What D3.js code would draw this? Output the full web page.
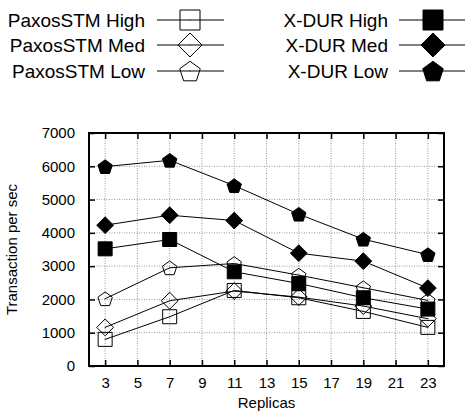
<!DOCTYPE html>
<html>
<head>
<meta charset="utf-8">
<script src="https://cdn.jsdelivr.net/npm/d3@7"></script>
<style>
  body { margin: 0; background: #fff; }
  svg { display: block; font-family: "Liberation Sans", Arial, sans-serif; }
</style>
</head>
<body>
<div id="chart"></div>
<script>
// data
var replicas = [3, 7, 11, 15, 19, 23];
var xTicks = [3, 5, 7, 9, 11, 13, 15, 17, 19, 21, 23];
var yTicks = [0, 1000, 2000, 3000, 4000, 5000, 6000, 7000];

var paxosHigh = [800, 1480, 2270, 2050, 1640, 1160];
var paxosMed  = [1160, 1960, 2250, 2070, 1800, 1420];
var paxosLow  = [2020, 2950, 3080, 2730, 2350, 1970];
var xdurHigh  = [3520, 3800, 2830, 2480, 2050, 1710];
var xdurMed   = [4230, 4530, 4370, 3390, 3150, 2340];
var xdurLow   = [5990, 6180, 5420, 4560, 3810, 3345];

var series = [
	{ name: "PaxosSTM High", values: paxosHigh, shape: "square",   filled: false },
	{ name: "PaxosSTM Med",  values: paxosMed,  shape: "diamond",  filled: false },
	{ name: "PaxosSTM Low",  values: paxosLow,  shape: "pentagon", filled: false },
	{ name: "X-DUR High",    values: xdurHigh,  shape: "square",   filled: true },
	{ name: "X-DUR Med",     values: xdurMed,   shape: "diamond",  filled: true },
	{ name: "X-DUR Low",     values: xdurLow,   shape: "pentagon", filled: true }
];

var width = 465, height = 413;
var margin = { left: 89, right: 21, top: 133, bottom: 47 };
var w = width - margin.left - margin.right;
var h = height - margin.top - margin.bottom;

var svg = d3.select("#chart").append("svg")
	.attr("width", width)
	.attr("height", height);

var x = d3.scaleLinear().domain([2, 24]).range([margin.left, margin.left + w]);
var y = d3.scaleLinear().domain([0, 7000]).range([margin.top + h, margin.top]);

// marker path for a given shape, size = full width
function markerPath(shape, s) {
	var r = s / 2;
	if (shape === "square") {
		return "M" + (-r) + "," + (-r) + "H" + r + "V" + r + "H" + (-r) + "Z";
	}
	if (shape === "diamond") {
		var d = r * 1.2;
		return "M0," + (-d) + "L" + d + ",0L0," + d + "L" + (-d) + ",0Z";
	}
	// pentagon, point up
	var pts = [];
	var pr = r * 1.08;
	for (var i = 0; i < 5; i++) {
		var a = -Math.PI / 2 + i * 2 * Math.PI / 5;
		pts.push([pr * Math.cos(a), pr * Math.sin(a) + pr * 0.1]);
	}
	return "M" + pts.map(function(p) { return p[0].toFixed(2) + "," + p[1].toFixed(2); }).join("L") + "Z";
}

function drawMarker(g, sr, cx, cy, size) {
	g.append("path")
		.attr("transform", "translate(" + cx + "," + cy + ")")
		.attr("d", markerPath(sr.shape, size))
		.attr("fill", sr.filled ? "#000" : "none")
		.attr("stroke", "#000")
		.attr("stroke-width", 1);
	if (!sr.filled) {
		g.append("rect")
			.attr("x", cx - 0.5).attr("y", cy - 0.5)
			.attr("width", 1).attr("height", 1)
			.attr("fill", "#333");
	}
}

// grid
var grid = svg.append("g");
grid.selectAll("line.gx")
	.data(xTicks)
	.enter().append("line")
	.attr("x1", function(d) { return x(d); }).attr("x2", function(d) { return x(d); })
	.attr("y1", margin.top).attr("y2", margin.top + h)
	.attr("stroke", "#999").attr("stroke-width", 1)
	.attr("stroke-dasharray", "1,1.5");
grid.selectAll("line.gy")
	.data(yTicks.slice(1, -1))
	.enter().append("line")
	.attr("y1", function(d) { return y(d); }).attr("y2", function(d) { return y(d); })
	.attr("x1", margin.left).attr("x2", margin.left + w)
	.attr("stroke", "#999").attr("stroke-width", 1)
	.attr("stroke-dasharray", "1,1.5");

// axes
var xAxis = svg.append("g")
	.attr("transform", "translate(0," + (margin.top + h) + ")")
	.call(d3.axisBottom(x).tickValues(xTicks).tickSizeInner(-6).tickSizeOuter(0).tickPadding(11));
var xAxisTop = svg.append("g")
	.attr("transform", "translate(0," + margin.top + ")")
	.call(d3.axisTop(x).tickValues(xTicks).tickSizeInner(-6).tickSizeOuter(0).tickFormat(""));
var yAxis = svg.append("g")
	.attr("transform", "translate(" + margin.left + ",0)")
	.call(d3.axisLeft(y).tickValues(yTicks).tickFormat(d3.format("d")).tickSizeInner(-6).tickSizeOuter(0).tickPadding(14));
var yAxisRight = svg.append("g")
	.attr("transform", "translate(" + (margin.left + w) + ",0)")
	.call(d3.axisRight(y).tickValues(yTicks).tickSizeInner(-6).tickSizeOuter(0).tickFormat(""));

[xAxis, xAxisTop, yAxis, yAxisRight].forEach(function(a) {
	a.select(".domain").remove();
	a.selectAll(".tick line").attr("stroke", "#000").attr("stroke-width", 1.5);
	a.selectAll("text").attr("fill", "#000").style("font-size", "15px").style("font-family", "'Liberation Sans', Arial, sans-serif");
});

// frame
svg.append("rect")
	.attr("x", margin.left).attr("y", margin.top)
	.attr("width", w).attr("height", h)
	.attr("fill", "none").attr("stroke", "#000").attr("stroke-width", 2);

// axis titles
svg.append("text")
	.attr("x", margin.left + w / 2).attr("y", 408)
	.attr("text-anchor", "middle")
	.style("font-size", "15px")
	.text("Replicas");
svg.append("text")
	.attr("transform", "translate(17," + (margin.top + h / 2) + ") rotate(-90)")
	.attr("text-anchor", "middle")
	.style("font-size", "15px")
	.text("Transaction per sec");

// series
var line = d3.line()
	.x(function(d, i) { return x(replicas[i]); })
	.y(function(d) { return y(d); });

var plot = svg.append("g");
series.forEach(function(sr) {
	plot.append("path")
		.attr("d", line(sr.values))
		.attr("fill", "none")
		.attr("stroke", "#000")
		.attr("stroke-width", 1);
});
series.forEach(function(sr) {
	sr.values.forEach(function(v, i) {
		drawMarker(plot, sr, x(replicas[i]), y(v), 14);
	});
});

// legend
var legend = svg.append("g");
var rowY = [20, 45, 71];
var cols = [
	{ textEnd: 145, x1: 157, x2: 224, mx: 190 },
	{ textEnd: 388, x1: 399, x2: 465, mx: 433 }
];
series.forEach(function(sr, k) {
	var c = cols[Math.floor(k / 3)];
	var yy = rowY[k % 3];
	legend.append("text")
		.attr("x", c.textEnd).attr("y", yy)
		.attr("dy", "0.36em")
		.attr("text-anchor", "end")
		.style("font-size", "19px")
		.text(sr.name);
	legend.append("line")
		.attr("x1", c.x1).attr("x2", c.x2)
		.attr("y1", yy).attr("y2", yy)
		.attr("stroke", "#000").attr("stroke-width", 1);
	drawMarker(legend, sr, c.mx, yy, 20);
});
</script>
</body>
</html>
